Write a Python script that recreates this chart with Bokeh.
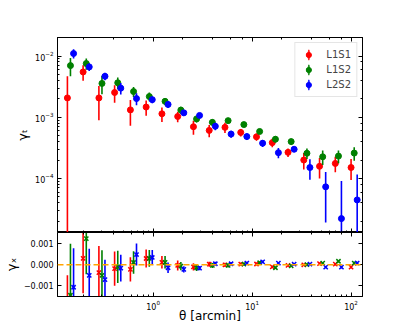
from bokeh.plotting import figure
from bokeh.models import (Range1d, LogAxis, LinearAxis, Span, Legend, LegendItem,
                          FixedTicker, CustomJSTickFormatter, ColumnDataSource)
from bokeh.layouts import column
from bokeh.embed import file_html
from bokeh.resources import INLINE

# ---------------- data ----------------
series_names = ["L1S1", "L1S2", "L2S2"]
series_colors = ["#ff0000", "#008000", "#0000ff"]

theta_L1S1 = [0.136, 0.196, 0.283, 0.408, 0.589, 0.850, 1.227, 1.771, 2.555, 3.687,
              5.321, 7.68, 11.08, 16.0, 23.08, 33.31, 48.07, 69.37, 100.1]
theta_L1S2 = [0.146, 0.211, 0.304, 0.439, 0.634, 0.915, 1.320, 1.906, 2.749, 3.967,
              5.725, 8.26, 11.92, 17.22, 24.83, 35.84, 51.72, 74.64, 107.7]
theta_L2S2 = [0.157, 0.226, 0.326, 0.471, 0.679, 0.980, 1.415, 2.042, 2.946, 4.251,
              6.135, 8.85, 12.78, 18.45, 26.61, 38.41, 55.43, 79.98, 115.4]

gt_L1S1 = [2.07e-3, 5.5e-3, 2.07e-3, 2.54e-3, 1.32e-3, 1.47e-3, 1.14e-3, 1.03e-3, 7.0e-4, 6.1e-4,
           6.84e-4, 5.65e-4, 4.79e-4, 3.85e-4, 2.67e-4, 2.0e-4, 1.58e-4, 1.76e-4, 1.51e-4]
gt_err_L1S1 = [2.6e-3, 1.55e-3, 1.18e-3, 8.1e-4, 5.9e-4, 4.1e-4, 3.0e-4, 2.0e-4, 1.8e-4, 1.4e-4,
               1.3e-4, 8.0e-5, 6.5e-5, 6.0e-5, 4.3e-5, 6.0e-5, 5.8e-5, 5.0e-5, 5.7e-5]
gt_L1S2 = [6.98e-3, 7.55e-3, 3.57e-3, 3.66e-3, 2.63e-3, 2.18e-3, 1.82e-3, 1.31e-3, 9.4e-4, 8.26e-4,
           8.81e-4, 7.59e-4, 5.86e-4, 4.38e-4, 4.0e-4, 2.58e-4, 2.26e-4, 2.32e-4, 2.6e-4]
gt_err_L1S2 = [2.3e-3, 1.6e-3, 1.2e-3, 8.0e-4, 4.8e-4, 3.5e-4, 2.5e-4, 1.8e-4, 1.2e-4, 1.0e-4,
               7.0e-5, 6.0e-5, 5.0e-5, 5.0e-5, 4.5e-5, 5.0e-5, 6.0e-5, 5.5e-5, 6.5e-5]
gt_L2S2 = [1.10e-2, 6.65e-3, 4.67e-3, 2.99e-3, 2.02e-3, 1.94e-3, 1.62e-3, 1.18e-3, 1.07e-3, 7.13e-4,
           5.31e-4, 4.84e-4, 3.77e-4, 2.64e-4, 3.0e-4, 1.51e-4, 7.3e-5, 2.21e-5, 4.46e-5]
gt_err_L2S2 = [1.9e-3, 9.5e-4, 6.5e-4, 6.3e-4, 4.5e-4, 2.5e-4, 2.0e-4, 1.2e-4, 1.0e-4, 1.0e-4,
               7.0e-5, 6.0e-5, 5.0e-5, 5.0e-5, 3.0e-5, 5.6e-5, 5.4e-5, 6.9e-5, 7.1e-5]

gx_L1S1 = [-2.0e-3, 3.1e-4, -3.7e-4, -1.8e-4, -2.2e-4, 3.0e-4, 1.2e-4, -3e-5, -1.0e-4, 3e-5,
           0.0, 3e-5, 4e-5, -1.0e-4, -3e-5, 0.0, 6e-5, 3e-5, -1.1e-4]
gx_err_L1S1 = [1.5e-3, 1.66e-3, 1.27e-3, 8.2e-4, 5.8e-4, 4.3e-4, 3.0e-4, 2.4e-4, 1.7e-4, 1.2e-4,
               1.0e-4, 8e-5, 7e-5, 6e-5, 6e-5, 5e-5, 5e-5, 6e-5, 7e-5]
gx_L1S2 = [-1.45e-3, 1.25e-3, -5.0e-4, -1.0e-4, 1.1e-4, 3.1e-4, 1.2e-4, -6e-5, -1.4e-4, -3e-5,
           -3e-5, 3e-5, 1.0e-4, -1.4e-4, -5e-5, 1e-5, 8e-5, 1.7e-4, 8e-5]
gx_err_L1S2 = [2.45e-3, 1.7e-3, 1.2e-3, 7.7e-4, 5.4e-4, 4.0e-4, 3.0e-4, 2.0e-4, 1.5e-4, 1.2e-4,
               1.0e-4, 8e-5, 7e-5, 6e-5, 6e-5, 5e-5, 5e-5, 6e-5, 7e-5]
gx_L2S2 = [-1.07e-3, -5.0e-4, -7.1e-4, -1.6e-4, 4.9e-4, 3.5e-4, -1.4e-4, -2.2e-4, -1.6e-4, 5e-5,
           5e-5, 8e-5, 1.4e-4, 8e-5, 3e-5, 3e-5, -1.1e-4, -1.1e-4, 8e-5]
gx_err_L2S2 = [1.86e-3, 1.26e-3, 9.5e-4, 6.4e-4, 5.2e-4, 3.6e-4, 2.5e-4, 1.5e-4, 1.0e-4, 1.0e-4,
               8e-5, 7e-5, 6e-5, 6e-5, 5e-5, 5e-5, 5e-5, 6e-5, 7e-5]

y_ticks_cross = [-0.001, 0.0, 0.001]

thetas = [theta_L1S1, theta_L1S2, theta_L2S2]
gts = [gt_L1S1, gt_L1S2, gt_L2S2]
gt_errs = [gt_err_L1S1, gt_err_L1S2, gt_err_L2S2]
gxs = [gx_L1S1, gx_L1S2, gx_L2S2]
gx_errs = [gx_err_L1S1, gx_err_L1S2, gx_err_L2S2]

# ---------------- styling ----------------
FONT = "DejaVu Sans"
TICK_FS = "8px"
LABEL_FS = "13px"
W = 395
LEFT = 43
RIGHT = 33

def style_axis(ax, show_labels=True):
    ax.major_tick_in = 4
    ax.major_tick_out = 0
    ax.minor_tick_in = 2
    ax.minor_tick_out = 0
    ax.axis_line_color = "black"
    ax.major_tick_line_color = "black"
    ax.minor_tick_line_color = "black"
    ax.major_label_text_font = FONT
    ax.axis_label_text_font = FONT
    ax.axis_label_text_font_style = "normal"
    ax.axis_label_text_font_size = LABEL_FS
    ax.axis_label_text_color = "black"
    ax.major_label_text_color = "black"
    if show_labels:
        ax.major_label_text_font_size = TICK_FS
        ax.major_label_standoff = 4
        ax.axis_label_standoff = 2
    else:
        ax.formatter = CustomJSTickFormatter(code="return '';")
        ax.major_label_text_font_size = "1px"
        ax.major_label_standoff = 0

x_range = Range1d(0.108, 130.6)

# ---------------- top panel ----------------
top = figure(width=W, height=232, x_axis_type="log", y_axis_type="log",
             x_range=x_range, y_range=Range1d(1.31e-5, 0.0201),
             output_backend="svg", toolbar_location=None,
             min_border_left=LEFT, min_border_right=RIGHT,
             min_border_top=37, min_border_bottom=0)
top.grid.visible = False
top.outline_line_color = "black"
style_axis(top.xaxis[0], show_labels=False)
style_axis(top.yaxis[0])
top.yaxis[0].axis_label = "γₜ"
ax_t = LogAxis(); style_axis(ax_t, show_labels=False); top.add_layout(ax_t, "above")
ax_r = LogAxis(); style_axis(ax_r, show_labels=False); top.add_layout(ax_r, "right")

legend_items = []
for name, c, th, v, e in zip(series_names, series_colors, thetas, gts, gt_errs):
    lo = [max(a - b, 1e-12) for a, b in zip(v, e)]
    hi = [a + b for a, b in zip(v, e)]
    src = ColumnDataSource(dict(x=th, y=v, lo=lo, hi=hi))
    top.segment(x0="x", y0="lo", x1="x", y1="hi", source=src, line_color=c, line_width=1.6)
    sc = top.scatter("x", "y", source=src, marker="circle", size=6, fill_color=c, line_color=c)
    # legend-only glyph: a thin vertical bar (kept muted so it is invisible in the plot area)
    bar = top.ellipse("x", "y", source=src, width=1.6, height=13,
                      width_units="screen", height_units="screen",
                      fill_color=c, line_color=c, line_width=0.6,
                      muted_alpha=0.0)
    bar.muted = True
    legend_items.append(LegendItem(label=name, renderers=[bar, sc]))

legend = Legend(items=legend_items, location="top_right", margin=5, padding=5,
                glyph_width=16, glyph_height=13, label_height=13, spacing=2,
                label_standoff=10, label_text_font=FONT, label_text_font_size="10px",
                border_line_color="#cccccc", border_line_width=1,
                background_fill_alpha=0.8, click_policy="none")
top.add_layout(legend)

# ---------------- bottom panel ----------------
bot = figure(width=W, height=98, x_axis_type="log",
             x_range=x_range, y_range=Range1d(-0.00151, 0.00154),
             output_backend="svg", toolbar_location=None,
             min_border_left=LEFT, min_border_right=RIGHT,
             min_border_top=0, min_border_bottom=34)
bot.grid.visible = False
bot.outline_line_color = "black"
style_axis(bot.xaxis[0])
bot.xaxis[0].axis_label = "θ [arcmin]"
bot.xaxis[0].axis_label_text_font_size = "12px"
bot.xaxis[0].major_label_standoff = 3
bot.xaxis[0].axis_label_standoff = -4
style_axis(bot.yaxis[0])
bot.yaxis[0].axis_label = "γₓ"
bot.yaxis[0].ticker = FixedTicker(ticks=y_ticks_cross)
bot.yaxis[0].formatter = CustomJSTickFormatter(
    code="return tick.toFixed(3).replace('-', '\\u2212');")
ax_bt = LogAxis(); style_axis(ax_bt, show_labels=False); bot.add_layout(ax_bt, "above")
ax_br = LinearAxis(ticker=FixedTicker(ticks=y_ticks_cross))
style_axis(ax_br, show_labels=False); bot.add_layout(ax_br, "right")

for name, c, th, v, e in zip(series_names, series_colors, thetas, gxs, gx_errs):
    lo = [a - b for a, b in zip(v, e)]
    hi = [a + b for a, b in zip(v, e)]
    src = ColumnDataSource(dict(x=th, y=v, lo=lo, hi=hi))
    bot.segment(x0="x", y0="lo", x1="x", y1="hi", source=src, line_color=c, line_width=1.6)
    bot.scatter("x", "y", source=src, marker="x", size=6, line_color=c, line_width=1.5)

bot.add_layout(Span(location=0, dimension="width", line_color="#ffa500",
                    line_dash="6 3", line_width=1.5))

p = column(top, bot, spacing=0)
open("out.html", "w").write(file_html(p, INLINE))
